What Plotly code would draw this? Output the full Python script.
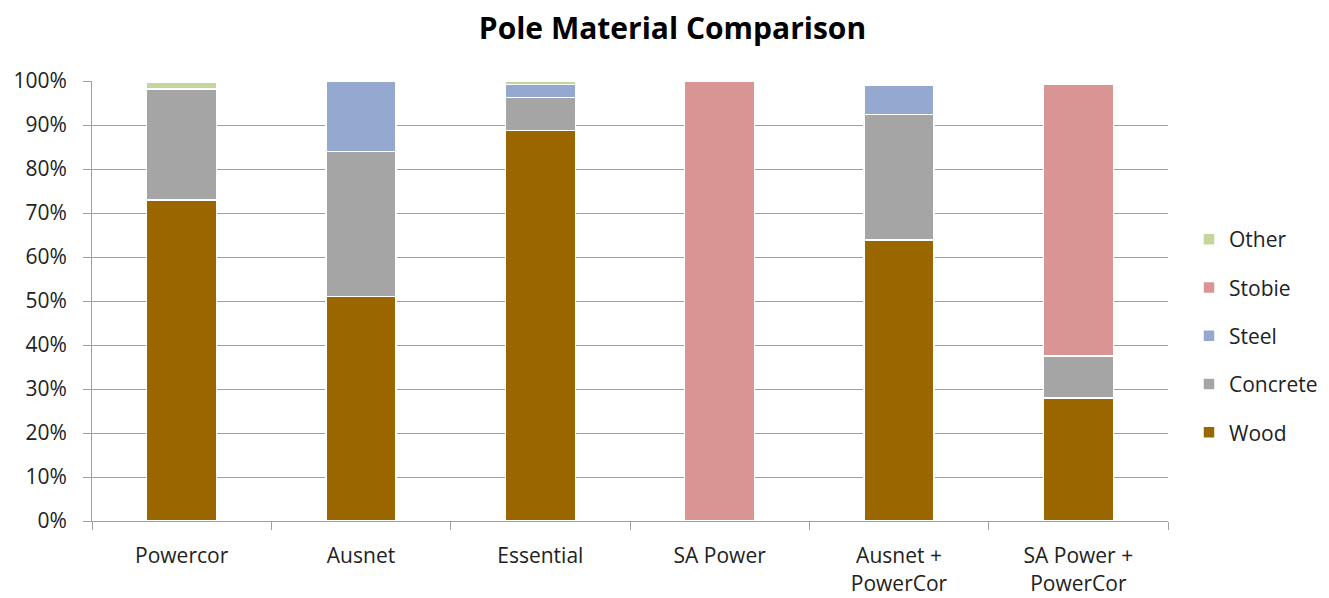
import plotly.graph_objects as go

# Distribution of pole materials per network (percent of poles)
categories = ["Powercor", "Ausnet", "Essential", "SA Power",
              "Ausnet +<br>PowerCor", "SA Power +<br>PowerCor"]
wood = [73.0, 51.0, 88.8, 0.0, 63.9, 28.0]
concrete = [25.2, 33.0, 7.4, 0.0, 28.5, 9.5]
steel = [0.0, 16.0, 3.0, 0.0, 6.7, 0.0]
stobie = [0.0, 0.0, 0.0, 100.0, 0.0, 61.8]
other = [1.5, 0.0, 0.8, 0.0, 0.0, 0.0]

series = [
    ("Wood", wood, "#996600"),
    ("Concrete", concrete, "#A5A5A5"),
    ("Steel", steel, "#95A9D0"),
    ("Stobie", stobie, "#D99594"),
    ("Other", other, "#C3D69B"),
]

fig = go.Figure()
n = len(series)
for i, (name, vals, color) in enumerate(series):
    fig.add_trace(go.Bar(
        x=categories,
        y=[v / 100 for v in vals],
        name=name,
        legendgroup=name,
        legendrank=n - i,
        marker=dict(color=color, line=dict(color="white", width=1.5)),
        width=0.39,
    ))

font_family = "Open Sans, Liberation Sans, Arial, sans-serif"

fig.update_layout(
    barmode="stack",
    width=1329,
    height=598,
    margin=dict(l=92, r=161, t=81, b=77, autoexpand=False),
    paper_bgcolor="white",
    plot_bgcolor="white",
    font=dict(family=font_family, size=20, color="#222222"),
    title=dict(
        text="<b>Pole Material Comparison</b>",
        x=0.506, xref="container", xanchor="center",
        y=1 - 28 / 598, yref="container", yanchor="middle",
        font=dict(size=30, color="#000000", family=font_family),
    ),
    legend=dict(
        xref="container", yref="container",
        x=1189 / 1329, xanchor="left",
        y=1 - 336 / 598, yanchor="middle",
        traceorder="grouped",
        tracegroupgap=18,
        font=dict(size=21, color="#222222"),
        itemwidth=30,
    ),
    showlegend=True,
)

fig.update_yaxes(
    range=[0, 1],
    tickformat=".0%",
    dtick=0.1,
    showgrid=True,
    gridcolor="#A0A0A0",
    gridwidth=1,
    showline=True,
    linecolor="#A0A0A0",
    linewidth=1,
    ticks="outside",
    ticklen=8,
    tickcolor="#A0A0A0",
    ticklabelstandoff=12,
    zeroline=False,
    automargin=False,
    tickfont=dict(size=21, color="#222222"),
)

fig.update_xaxes(
    showline=True,
    linecolor="#A0A0A0",
    linewidth=1,
    ticks="outside",
    tickson="boundaries",
    ticklen=8,
    tickcolor="#A0A0A0",
    ticklabelstandoff=16,
    showgrid=False,
    automargin=False,
    tickfont=dict(size=21, color="#222222"),
)

fig.write_html("out.html")
